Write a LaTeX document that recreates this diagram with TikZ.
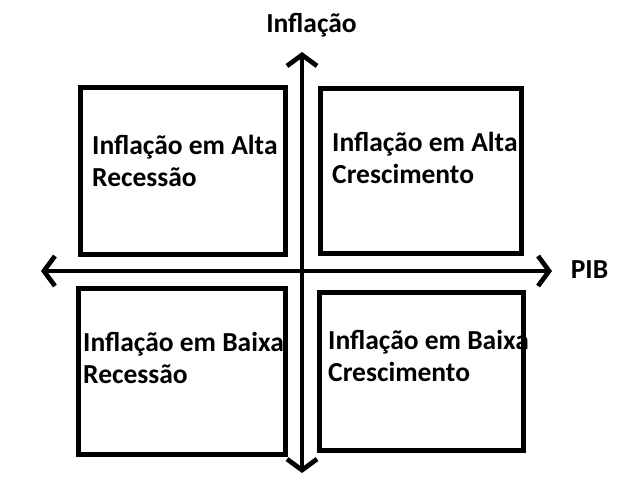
\documentclass[tikz,border=0pt]{standalone}
\usepackage{fontspec}
\setmainfont{Carlito}
\usetikzlibrary{arrows.meta}

\begin{document}
\begin{tikzpicture}[
    x=1pt, y=-1pt,
    quad/.style={draw, rectangle, line width=5pt, inner sep=0pt},
    axis/.style={line width=4.7pt, {Straight Barb[length=11pt, width=30pt]}-{Straight Barb[length=11pt, width=30pt]}},
    label text/.style={font=\bfseries\fontsize{27.5}{32}\selectfont, inner sep=0pt, anchor=base west, align=left}
]
\useasboundingbox (0,0) rectangle (620,488);

% Quadranti
\node[quad, minimum width=205pt, minimum height=167pt] (Q1) at (182.5, 170.5) {};
\node[quad, minimum width=201pt, minimum height=165pt] (Q2) at (420.5, 170.5) {};
\node[quad, minimum width=207pt, minimum height=166pt] (Q3) at (182.3, 371.3) {};
\node[quad, minimum width=204pt, minimum height=158pt] (Q4) at (421.8, 371.3) {};

% Testi (base = ultima riga)
\node[label text] (T1) at (92, 186) {Inflação em Alta\\Recessão};
\node[label text] (T2) at (332, 183) {Inflação em Alta\\Crescimento};
\node[label text] (T3) at (83, 383) {Inflação em Baixa\\Recessão};
\node[label text] (T4) at (328, 381) {Inflação em Baixa\\Crescimento};

% Assi
\coordinate (Ytop) at (302, 52);
\coordinate (Ybot) at (302, 473);
\coordinate (Xleft) at (41, 271);
\coordinate (Xright) at (552, 271);
\draw[axis] (Ybot) -- (Ytop);
\draw[axis] (Xleft) -- (Xright);

\node[label text, anchor=base] (Inf) at (311.5, 32) {Inflação};
\node[label text, anchor=base] (PIB) at (589.5, 278) {PIB};

\end{tikzpicture}
\end{document}
